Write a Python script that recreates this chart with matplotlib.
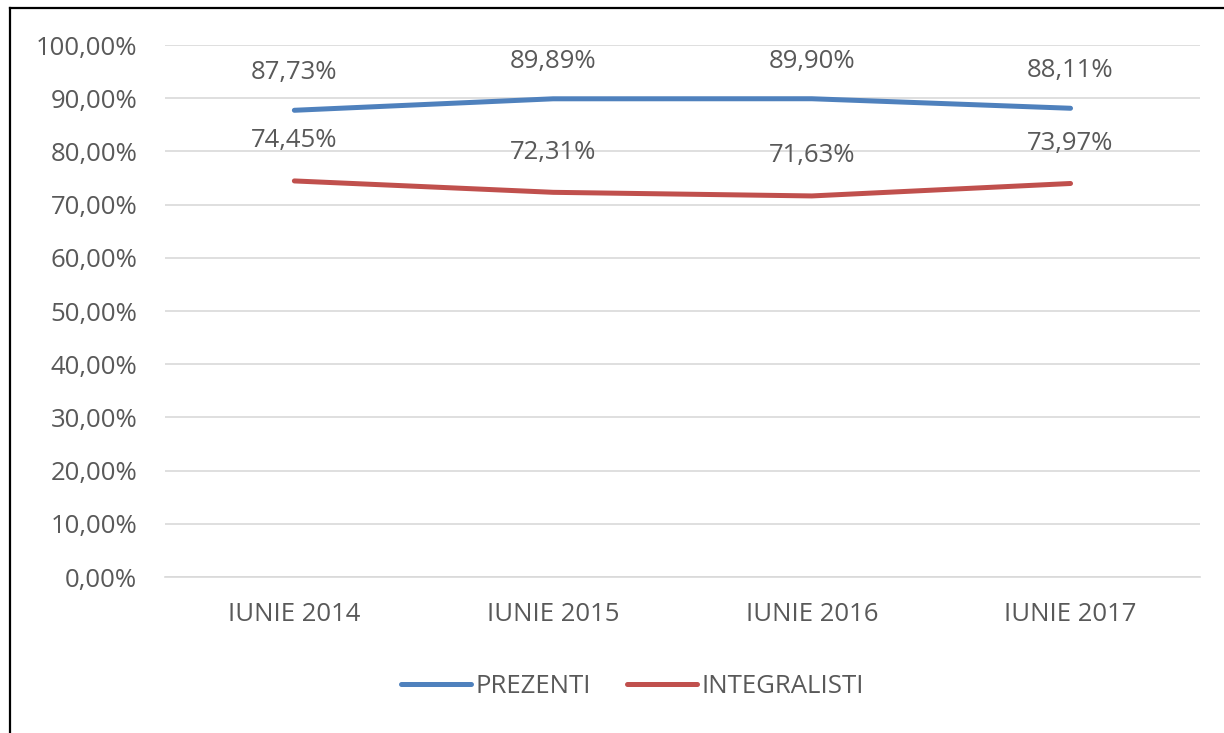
import matplotlib.pyplot as plt
from matplotlib.lines import Line2D
from matplotlib.ticker import FuncFormatter

# Data
categories = ['IUNIE 2014', 'IUNIE 2015', 'IUNIE 2016', 'IUNIE 2017']
prezenti = [87.73, 89.89, 89.90, 88.11]
integralisti = [74.45, 72.31, 71.63, 73.97]

blue = '#4F81BD'
red = '#C0504D'
grey_text = '#595959'
fs = 18.5

plt.rcParams['font.family'] = ['Open Sans', 'DejaVu Sans']

fig = plt.figure(figsize=(12.24, 7.33), dpi=100)
ax = fig.add_axes([0.1348, 0.2128, 0.8455, 0.7258])

x = range(len(categories))
ax.plot(x, prezenti, color=blue, lw=3.6, solid_capstyle='round', label='PREZENTI')
ax.plot(x, integralisti, color=red, lw=3.6, solid_capstyle='round', label='INTEGRALISTI')

def pct(v):
    return f'{v:.2f}%'.replace('.', ',')

for xi, v in zip(x, prezenti):
    ax.annotate(pct(v), (xi, v), xytext=(0, 27), textcoords='offset points',
                ha='center', va='center', fontsize=fs, color=grey_text)
for xi, v in zip(x, integralisti):
    ax.annotate(pct(v), (xi, v), xytext=(0, 29), textcoords='offset points',
                ha='center', va='center', fontsize=fs, color=grey_text)

ax.set_xlim(-0.5, 3.5)
ax.set_ylim(0, 100)
ax.set_yticks(range(0, 101, 10))
ax.yaxis.set_major_formatter(FuncFormatter(lambda v, _: pct(v)))
ax.set_xticks(list(x))
ax.set_xticklabels(categories)
ax.grid(axis='y', color='#D9D9D9', lw=1.2)
ax.set_axisbelow(True)
for s in ['top', 'right', 'left']:
    ax.spines[s].set_visible(False)
ax.spines['bottom'].set_color('#D9D9D9')
ax.spines['bottom'].set_linewidth(1.2)
ax.tick_params(axis='both', length=0, labelsize=fs, labelcolor=grey_text)
ax.tick_params(axis='y', pad=20)
ax.tick_params(axis='x', pad=18)

handles = [Line2D([], [], color=blue, lw=3.6, solid_capstyle='round'),
           Line2D([], [], color=red, lw=3.6, solid_capstyle='round')]
fig.legend(handles, ['PREZENTI', 'INTEGRALISTI'], loc='center', bbox_to_anchor=(0.517, 0.064),
           ncol=2, frameon=False, fontsize=fs, labelcolor=grey_text,
           handlelength=2.7, handletextpad=0.2, columnspacing=1.4)

# outer frame (top and left edges visible in the screenshot)
fig.add_artist(Line2D([0.0082, 0.0082], [0, 0.989], color='black', lw=1.6, transform=fig.transFigure))
fig.add_artist(Line2D([0.0082, 1], [0.989, 0.989], color='black', lw=1.6, transform=fig.transFigure))

fig.savefig('out.png', dpi=100)
